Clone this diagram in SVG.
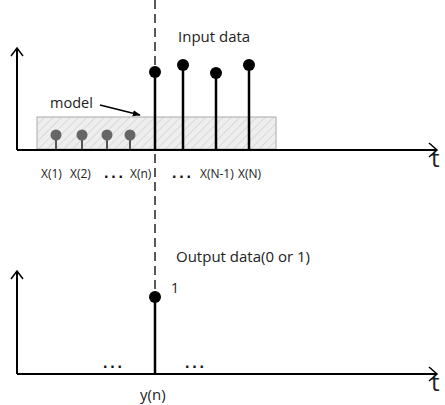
<svg xmlns="http://www.w3.org/2000/svg" width="445" height="405" viewBox="0 0 445 405">
<style>
.ax{stroke:#000;stroke-width:2;fill:none}
.ah{stroke:#000;stroke-width:1.5;fill:none}
.stem{stroke:#000;stroke-width:2.5}
.gstem{stroke:#555;stroke-width:2}
.dot{fill:#000}
.gdot{fill:#666}
.lbl{font-family:"Open Sans","Liberation Sans",sans-serif;fill:#222}
.dots{font-family:"Liberation Sans",sans-serif;font-weight:bold;fill:#111;letter-spacing:-0.8px}
</style>
<defs>
<pattern id="hatch" patternUnits="userSpaceOnUse" width="6" height="6" patternTransform="rotate(45)">
<rect width="6" height="6" fill="#eeeeee"/>
<line x1="0" y1="0" x2="0" y2="6" stroke="#c4c4c4" stroke-width="1"/>
</pattern>
<marker id="arr" viewBox="0 0 10 10" refX="9" refY="5" markerWidth="8" markerHeight="8" orient="auto" markerUnits="userSpaceOnUse">
<path d="M0,1 L10,5 L0,9 z" fill="#000"/>
</marker>
</defs>

<g id="top-plot">
<rect id="model-box" x="37" y="117" width="239" height="32" fill="url(#hatch)" stroke="#aaa" stroke-width="1"/>
<g id="gray-stems">
<line class="gstem" x1="56" y1="135" x2="56" y2="150"/><circle class="gdot" cx="56" cy="135" r="5.5"/>
<line class="gstem" x1="82" y1="135" x2="82" y2="150"/><circle class="gdot" cx="82" cy="135" r="5.5"/>
<line class="gstem" x1="107" y1="135" x2="107" y2="150"/><circle class="gdot" cx="107" cy="135" r="5.5"/>
<line class="gstem" x1="130" y1="135" x2="130" y2="150"/><circle class="gdot" cx="130" cy="135" r="5.5"/>
</g>
<g id="input-stems">
<line class="stem" x1="155" y1="72" x2="155" y2="150"/><circle class="dot" cx="155" cy="72" r="6"/>
<line class="stem" x1="183" y1="65" x2="183" y2="150"/><circle class="dot" cx="183" cy="65" r="6"/>
<line class="stem" x1="216" y1="73" x2="216" y2="150"/><circle class="dot" cx="216" cy="73" r="6"/>
<line class="stem" x1="249" y1="65" x2="249" y2="150"/><circle class="dot" cx="249" cy="65" r="6"/>
</g>
<path class="ax" d="M17,150 V48 M17,150 H437"/>
<path class="ah" d="M11,56 L17,48 L23,56 M429,143 L437,150 L429,157"/>
<text class="lbl" x="431" y="167" font-size="24">t</text>
<text class="lbl" x="178" y="42" font-size="15">Input data</text>
<text class="lbl" x="50" y="108" font-size="14.5">model</text>
<line x1="100" y1="105" x2="140" y2="115" stroke="#000" stroke-width="1.5" marker-end="url(#arr)"/>
<g font-size="12" class="lbl">
<text x="41" y="178">X(1)</text>
<text x="70" y="178">X(2)</text>
<text x="130" y="178">X(n)</text>
<text x="200" y="178">X(N-1)</text>
<text x="238" y="178">X(N)</text>
</g>
<text class="dots" x="104" y="178" font-size="16">. . .</text>
<text class="dots" x="172" y="178" font-size="16">. . .</text>
</g>

<g id="divider">
<line x1="155" y1="0" x2="155" y2="297" stroke="#000" stroke-width="1.3" stroke-dasharray="9,5"/>
</g>

<g id="bottom-plot">
<line class="stem" x1="155" y1="297" x2="155" y2="374"/><circle class="dot" cx="155" cy="297" r="6"/>
<path class="ax" d="M17,374 V271 M17,374 H437"/>
<path class="ah" d="M11,279 L17,271 L23,279 M429,367 L437,374 L429,381"/>
<text class="lbl" x="431" y="391" font-size="24">t</text>
<text class="lbl" x="171" y="293" font-size="14">1</text>
<text class="lbl" x="176" y="262" font-size="15">Output data(0 or 1)</text>
<text class="dots" x="103" y="368" font-size="16">. . .</text>
<text class="dots" x="185" y="368" font-size="16">. . .</text>
<text class="lbl" x="140" y="400" font-size="15">y(n)</text>
</g>
</svg>
